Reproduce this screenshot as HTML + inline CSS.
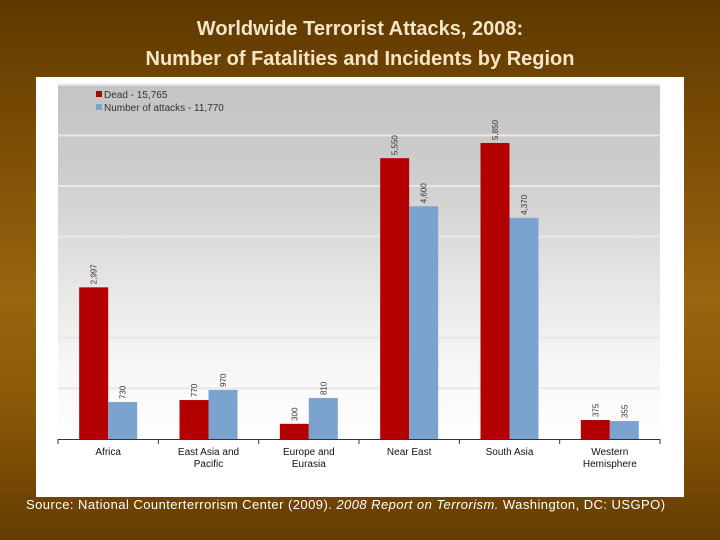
<!DOCTYPE html>
<html><head><meta charset="utf-8"><style>
body{margin:0;width:720px;height:540px;overflow:hidden;font-family:"Liberation Sans",sans-serif;
background:linear-gradient(180deg,#5e3800 0%,#7a4c05 25%,#9a6510 55%,#8a5808 75%,#643c00 100%);position:relative}
#title{position:absolute;left:0;top:14px;width:720px;text-align:center;color:#f3e6c8;font-size:20px;line-height:30px;font-weight:bold}
#panel{position:absolute;left:36px;top:77px;width:648px;height:420px;background:#fff}
#src{position:absolute;left:26px;top:497px;color:#fff;font-size:13px;letter-spacing:0.45px;white-space:nowrap}
</style></head><body>
<div id="title">Worldwide Terrorist Attacks, 2008:<br>Number of Fatalities and Incidents by Region</div>
<div id="panel"></div>
<svg id="chart" width="720" height="540" style="position:absolute;left:0;top:0">
<defs><linearGradient id="bg" x1="0" y1="0" x2="0" y2="1">
<stop offset="0" stop-color="#c4c4c4"/><stop offset="0.25" stop-color="#cdcdcd"/><stop offset="0.75" stop-color="#f4f4f4"/><stop offset="1" stop-color="#ffffff"/></linearGradient></defs>
<rect x="58" y="84" width="602" height="355" fill="url(#bg)"/>
<g id="grid"></g><g id="bars"></g><g id="labels"></g>
</svg>
<div id="src">Source: National Counterterrorism Center (2009). <i>2008 Report on Terrorism.</i> Washington, DC: USGPO)</div>
<script>
const categories=[["Africa"],["East Asia and","Pacific"],["Europe and","Eurasia"],["Near East"],["South Asia"],["Western","Hemisphere"]];
const dead=[2997,770,300,5550,5850,375];
const attacks=[730,970,810,4600,4370,355];
const gridTicks=[0,1000,2000,3000,4000,5000,6000,7000];
const ns="http://www.w3.org/2000/svg";
const X0=58,PW=602,Y0=439,PX_PER=50.6/1000;
const y=v=>Y0-v*PX_PER;
const catW=PW/categories.length;
const cx=i=>X0+catW*i+catW/2;
function mk(t,a,p){const e=document.createElementNS(ns,t);for(const k in a)e.setAttribute(k,a[k]);p.appendChild(e);return e;}
const grid=document.getElementById('grid'),bars=document.getElementById('bars'),labels=document.getElementById('labels');
gridTicks.forEach(t=>{if(t===0)return;
const l=mk('line',{x1:X0,x2:X0+PW,y1:y(t),y2:y(t),stroke:'#e8e8e8','stroke-width':2},grid);

});
const ax=mk('line',{x1:X0,x2:X0+PW,y1:Y0+0.5,y2:Y0+0.5,stroke:'#333','stroke-width':1},grid);


for(let i=0;i<=categories.length;i++){const tk=mk('line',{x1:X0+catW*i,x2:X0+catW*i,y1:Y0,y2:Y0+5,stroke:'#333'},grid);

}
const bw=29;
categories.forEach((c,i)=>{
const r=mk('rect',{x:cx(i)-bw,y:y(dead[i]),width:bw,height:Y0-y(dead[i]),fill:'#b30000'},bars);


const b=mk('rect',{x:cx(i),y:y(attacks[i]),width:bw,height:Y0-y(attacks[i]),fill:'#7aa3cf'},bars);


[[dead[i],cx(i)-bw/2],[attacks[i],cx(i)+bw/2]].forEach(([v,xx])=>{
const t=mk('text',{x:0,y:0,transform:`translate(${xx+3},${y(v)-3}) rotate(-90)`,'font-size':8,fill:'#333'},labels);
t.textContent=v.toLocaleString('en-US');

});
c.forEach((ln,j)=>{const t=mk('text',{x:cx(i),y:455+j*12,'text-anchor':'middle','font-size':10,fill:'#111'},labels);
t.textContent=ln;

});
});
const lg=[["#b30000","Dead - 15,765"],["#7aa3cf","Number of attacks - 11,770"]];
lg.forEach((d,i)=>{const s=mk('rect',{x:96,y:91+i*13,width:6,height:6,fill:d[0]},labels);


const t=mk('text',{x:104,y:98+i*13,'font-size':10,fill:'#333'},labels);
t.textContent=d[1];

});
</script>
</body></html>
